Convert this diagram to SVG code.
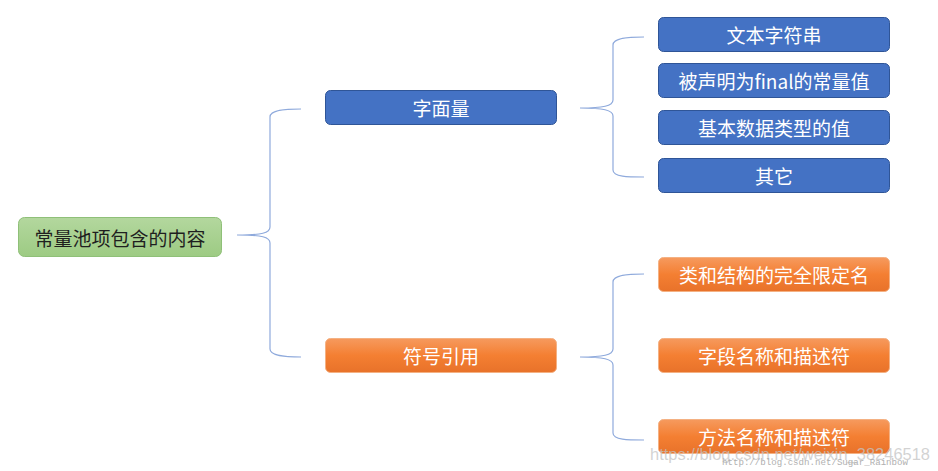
<svg xmlns="http://www.w3.org/2000/svg" width="938" height="471" viewBox="0 0 938 471">
<defs>
<linearGradient id="gOrange" x1="0" y1="0" x2="0" y2="1">
<stop offset="0" stop-color="#F69A5E"/>
<stop offset="0.5" stop-color="#F47F32"/>
<stop offset="1" stop-color="#E8722A"/>
</linearGradient>
<linearGradient id="gGreen" x1="0" y1="0" x2="0" y2="1">
<stop offset="0" stop-color="#B3D79E"/>
<stop offset="1" stop-color="#9DCB83"/>
</linearGradient>
<style>
.blue{fill:#4472C4;stroke:#2F5597;stroke-width:1}
.orange{fill:url(#gOrange);stroke:#F4B183;stroke-width:1}
.green{fill:url(#gGreen);stroke:#8FC078;stroke-width:1}
.t{font-family:"Noto Sans CJK SC","Noto Sans",sans-serif;font-size:19px;text-anchor:middle;dominant-baseline:central;fill:#ffffff}
.dark{fill:#1f1f1f}
.brace{fill:none;stroke:#8FAADC;stroke-width:1.2}
.wm{font-family:"Liberation Sans",Arial,sans-serif;font-size:17px;fill:#c4c4c4;fill-opacity:0.75}
.wm2{font-family:"Liberation Mono",monospace;font-size:9px;fill:#b0b0b0}
</style>
</defs>
<rect width="938" height="471" fill="#ffffff"/>
<g id="connectors">
<path class="brace" d="M301,109 C285,109 270,110 270,117 L270,227 C270,233 262,235 237,235 C262,235 270,237 270,243 L270,349 C270,356 285,357 301,357"/>
<path class="brace" d="M644,37 C628,37 613,38 613,45 L613,100 C613,106 603,108 580,108 C603,108 613,110 613,116 L613,170 C613,177 628,177 644,177"/>
<path class="brace" d="M644,274 C628,274 613,275 613,282 L613,349 C613,355 603,357 580,357 C603,357 613,359 613,365 L613,433 C613,440 628,440 644,440"/>
</g>
<g id="node-root">
<rect class="green" x="18.5" y="217.5" width="203" height="39" rx="6"/>
<text class="t dark" x="120" y="237.5">常量池项包含的内容</text>
</g>
<g id="node-literal">
<rect class="blue" x="325.5" y="90.5" width="231" height="34" rx="5"/>
<text class="t" x="441" y="107.5">字面量</text>
</g>
<g id="node-symref">
<rect class="orange" x="325.5" y="338.5" width="231" height="34" rx="5"/>
<text class="t" x="441" y="355.5">符号引用</text>
</g>
<g id="node-l1">
<rect class="blue" x="658.5" y="17.5" width="231" height="34" rx="5"/>
<text class="t" x="774" y="34.5">文本字符串</text>
</g>
<g id="node-l2">
<rect class="blue" x="658.5" y="63.5" width="231" height="34" rx="5"/>
<text class="t" x="774" y="80.5">被声明为final的常量值</text>
</g>
<g id="node-l3">
<rect class="blue" x="658.5" y="110.5" width="231" height="34" rx="5"/>
<text class="t" x="774" y="127.5">基本数据类型的值</text>
</g>
<g id="node-l4">
<rect class="blue" x="658.5" y="158.5" width="231" height="34" rx="5"/>
<text class="t" x="774" y="175.5">其它</text>
</g>
<g id="node-s1">
<rect class="orange" x="658.5" y="257.5" width="231" height="34" rx="5"/>
<text class="t" x="774" y="274.5">类和结构的完全限定名</text>
</g>
<g id="node-s2">
<rect class="orange" x="658.5" y="338.5" width="231" height="34" rx="5"/>
<text class="t" x="774" y="355.5">字段名称和描述符</text>
</g>
<g id="node-s3">
<rect class="orange" x="658.5" y="419.5" width="231" height="34" rx="5"/>
<text class="t" x="774" y="436.5">方法名称和描述符</text>
</g>
<g id="watermark">
<text class="wm" x="650" y="460" textLength="280" lengthAdjust="spacingAndGlyphs">https://blog.csdn.net/weixin_38246518</text>
<text class="wm2" x="722" y="465" textLength="186" lengthAdjust="spacingAndGlyphs">http://blog.csdn.net/Sugar_Rainbow</text>
</g>
</svg>
